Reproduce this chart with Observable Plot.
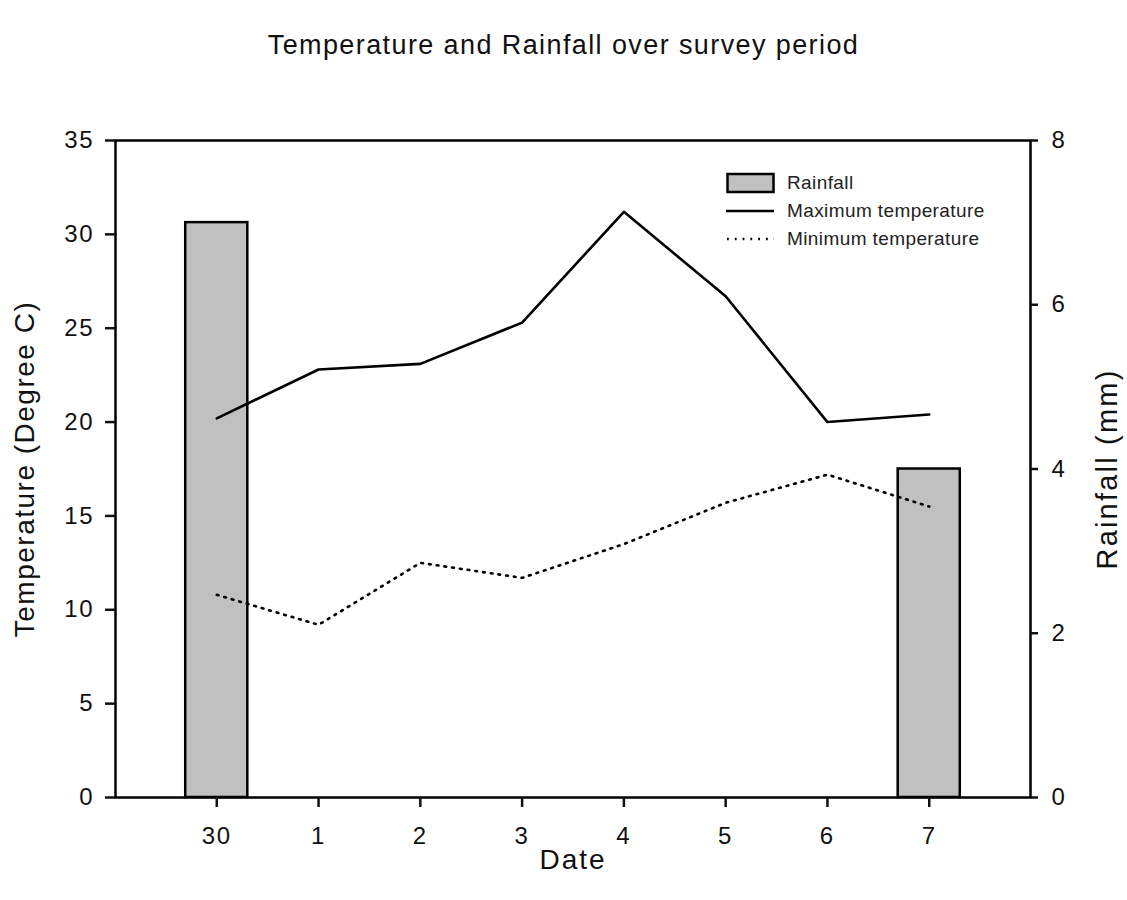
<!DOCTYPE html>
<html>
<head>
<meta charset="utf-8">
<script src="https://cdn.jsdelivr.net/npm/d3@7"></script>
<script src="https://cdn.jsdelivr.net/npm/@observablehq/plot@0.6"></script>
<style>
  html, body { margin: 0; padding: 0; background: #fff; }
  #wrap { position: relative; width: 1127px; height: 900px; font-family: "Liberation Sans", Arial, sans-serif; }
  #title { position: absolute; left: 0; width: 1127px; top: 29px; text-align: center; font-size: 27px; letter-spacing: 1.4px; color: #111; line-height: 32px; }
  #legend { position: absolute; left: 726px; top: 169px; font-size: 19px; letter-spacing: 0.4px; color: #222; }
  #legend .row { display: flex; align-items: center; height: 28px; }
  #legend svg { width: 50px; height: 24px; margin-right: 11px; }
  #chart { position: absolute; left: 0; top: 0; }
</style>
</head>
<body>
<div id="wrap">
  <div id="chart"></div>
  <div id="title">Temperature and Rainfall over survey period</div>
  <div id="legend">
    <div class="row"><svg><rect x="1.5" y="3" width="46" height="18" fill="#c0c0c0" stroke="#000" stroke-width="2.5"/></svg>Rainfall</div>
    <div class="row"><svg><line x1="0" x2="48" y1="12" y2="12" stroke="#000" stroke-width="2.5"/></svg>Maximum temperature</div>
    <div class="row"><svg><line x1="1" x2="48" y1="12" y2="12" stroke="#000" stroke-width="2.5" stroke-dasharray="1.8,6"/></svg>Minimum temperature</div>
  </div>
</div>
<script>
const dates = ["30", "1", "2", "3", "4", "5", "6", "7"];
const maxTemp = [20.2, 22.8, 23.1, 25.3, 31.2, 26.7, 20.0, 20.4];
const minTemp = [10.8, 9.2, 12.5, 11.7, 13.5, 15.7, 17.2, 15.5];
const rainfall = [7.0, 0, 0, 0, 0, 0, 0, 4.0];
const tempTicks = [0, 5, 10, 15, 20, 25, 30, 35];
const rainTicks = [0, 2, 4, 6, 8];

const TEMP_MAX = 35, RAIN_MAX = 8;
const k = TEMP_MAX / RAIN_MAX; // rainfall mapped onto temperature scale

const rows = dates.map((d, i) => ({date: d, max: maxTemp[i], min: minTemp[i], rain: rainfall[i]}));
const rainRows = rows.filter(r => r.rain > 0);

const font = "Liberation Sans, Arial, sans-serif";
const yLabelLeft = "Temperature (Degree C)";
const yLabelRight = "Rainfall (mm)";
const xLabel = "Date";

const chart = Plot.plot({
  width: 1127,
  height: 900,
  marginTop: 140,
  marginBottom: 103,
  marginLeft: 115,
  marginRight: 97,
  style: {fontFamily: font, fontSize: "24px", color: "#111", background: "white"},
  x: {type: "band", domain: dates, paddingInner: 0.39, paddingOuter: 0.69, round: false},
  y: {domain: [0, TEMP_MAX]},
  marks: [
    Plot.barY(rainRows, {x: "date", y: d => d.rain * k, fill: "#c0c0c0", stroke: "#000", strokeWidth: 2.5}),
    Plot.lineY(rows, {x: "date", y: "max", stroke: "#000", strokeWidth: 2.6}),
    Plot.lineY(rows, {x: "date", y: "min", stroke: "#000", strokeWidth: 2.6, strokeDasharray: "1.8,6"}),
    Plot.frame({stroke: "#000", strokeWidth: 2.5}),
    Plot.axisY(tempTicks, {anchor: "left", tickSize: 10, tickPadding: 11, tickFormat: d => d, label: null, strokeWidth: 2.5, fontSize: 24}),
    Plot.axisY(rainTicks.map(v => v * k), {anchor: "right", tickSize: 7, tickPadding: 14, tickFormat: v => Math.round(v / k), label: null, strokeWidth: 2.5, fontSize: 24}),
    Plot.axisX(dates, {anchor: "bottom", tickSize: 10, tickPadding: 19, label: null, strokeWidth: 2.5, fontSize: 24}),
    Plot.text([yLabelLeft], {frameAnchor: "left", textAnchor: "middle", lineAnchor: "middle", dx: -90, rotate: -90, fontSize: 28, fill: "#111"}),
    Plot.text([yLabelRight], {frameAnchor: "right", textAnchor: "middle", lineAnchor: "middle", dx: 77, rotate: -90, fontSize: 29, fill: "#111"}),
    Plot.text([xLabel], {frameAnchor: "bottom", textAnchor: "middle", lineAnchor: "middle", dy: 63, fontSize: 28, fill: "#111"})
  ]
});
const spacing = {[yLabelLeft]: 1.5, [yLabelRight]: 2.2, [xLabel]: 2};
d3.select(chart).selectAll("text").each(function() {
  const t = this.textContent;
  const s = t in spacing ? spacing[t] : 1.8;
  this.setAttribute("letter-spacing", s);
  this.style.letterSpacing = s + "px";
});
document.getElementById("chart").appendChild(chart);
</script>
</body>
</html>
